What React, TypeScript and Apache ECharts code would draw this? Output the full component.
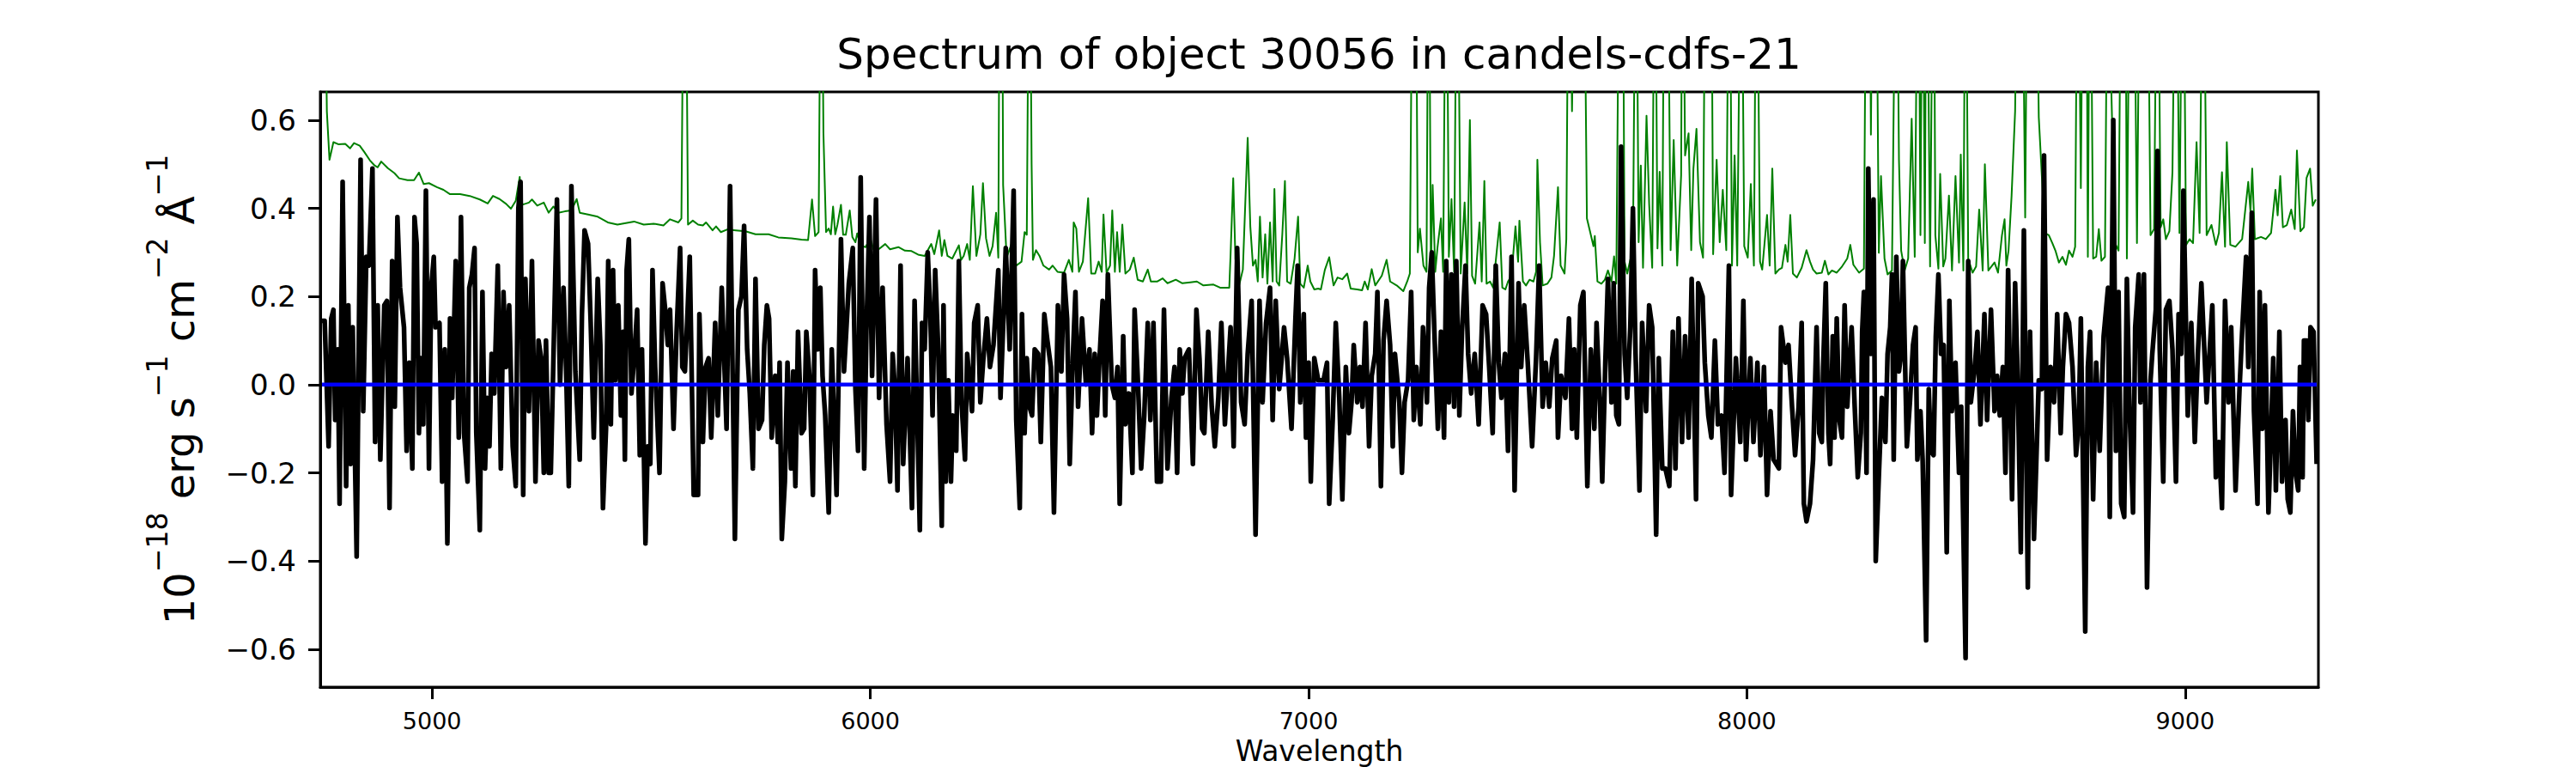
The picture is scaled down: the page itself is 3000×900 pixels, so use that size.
import React, { useEffect, useRef } from "react";
import * as echarts from "echarts";

const TITLE = "Spectrum of object 30056 in candels-cdfs-21";
const X_NAME = "Wavelength";
const Y_NAME = "{n|10}{s|−18}{n| erg s}{s|−1}{n| cm}{s|−2}{n| Å}{s|−1}";
const X_TICKS = [5000, 6000, 7000, 8000, 9000];
const Y_TICKS = [-0.6, -0.4, -0.2, 0.0, 0.2, 0.4, 0.6];
const X_RANGE = [4745, 9304];
const Y_RANGE = [-0.686, 0.664];

// Observed flux [wavelength, flux]
const FLUX_A = [
  [4749,0.145],[4755,0.145],[4764,-0.14],[4770,0.15],[4775,0.17],[4779,-0.08],[4785,0.08],[4789,-0.27],[4796,0.46],[4804,-0.23],[4809,0.18],[4814,-0.18],[4819,0.13],[4828,-0.39],[4837,0.51],[4843,-0.06],[4850,0.29],[4856,0.27],[4864,0.49],[4870,-0.13],[4876,0.18],[4882,-0.17],[4891,0.18],[4897,0.19],[4903,-0.28],[4909,0.28],[4915,-0.05],[4921,0.38],[4927,0.22],[4936,0.13],[4942,-0.15],[4948,0.05],[4955,-0.19],[4960,0.38],[4965,0.32],[4970,-0.11],[4976,0.06],[4980,-0.09],[4986,0.44],[4993,-0.19],[4998,0.22],[5004,0.29],[5008,0.13],[5017,0.14],[5023,-0.22],[5029,0.08],[5035,-0.36],[5041,0.15],[5046,-0.03],[5054,0.28],[5061,-0.12],[5066,0.38],[5073,-0.11],[5081,-0.22],[5085,0.22],[5091,0.25],[5097,0.31],[5101,-0.11],[5109,-0.33],[5115,0.21],[5121,-0.19],[5126,-0.03],[5131,-0.14],[5136,0.07],[5142,-0.02],[5150,0.27],[5157,-0.19],[5163,0.21],[5169,0.04],[5176,0.18],[5184,-0.14],[5191,-0.23],[5197,0.40],[5202,0.46],[5208,-0.25],[5213,0.24],[5221,-0.06],[5228,0.28],[5236,-0.22],[5243,0.10],[5249,0.06],[5255,-0.20],[5260,0.10],[5266,-0.20],[5271,-0.20],[5277,0.06],[5285,0.42],[5292,0.0],[5300,0.22],[5306,0.03],[5312,-0.23],[5318,0.45],[5327,0.03],[5337,-0.17],[5342,0.16],[5348,0.35],[5356,0.32],[5362,0.14],[5369,-0.12],[5378,0.24],[5384,0.09],[5390,-0.28],[5397,-0.10],[5402,0.28],[5408,-0.09],[5413,0.26],[5418,0.01],[5425,0.18],[5431,-0.07],[5436,0.12],[5440,-0.17],[5444,0.26],[5449,0.33],[5455,-0.02],[5461,0.06],[5468,0.17],[5474,-0.16],[5479,0.08],[5487,-0.36],[5492,-0.14],[5498,-0.18],[5503,0.26],[5509,0.04],[5519,-0.20],[5526,0.23],[5532,0.17],[5538,0.09],[5543,0.17],[5551,-0.10],[5558,0.12],[5566,0.31],[5571,0.04],[5577,0.03],[5582,0.14],[5588,0.29],[5597,-0.25],[5607,-0.25],[5610,0.16],[5618,-0.13],[5624,0.04],[5631,0.06],[5637,-0.12],[5646,0.14],[5652,-0.07],[5661,0.22],[5672,-0.10],[5680,0.45],[5691,-0.35],[5699,0.17],[5706,0.20],[5712,0.36],[5719,0.08],[5725,-0.02],[5732,-0.19],[5738,0.24],[5745,-0.10],[5753,-0.08],[5758,0.09],[5764,0.18],[5769,0.15],[5775,-0.12],[5783,0.02],[5789,-0.13],[5793,0.05],[5798,-0.35],[5805,-0.22],[5811,0.05],[5819,-0.19],[5824,0.03],[5829,-0.23],[5835,0.12],[5843,-0.11],[5849,-0.10],[5854,0.12],[5861,0.02],[5869,-0.25],[5874,0.26],[5880,0.08],[5886,0.22],[5891,0.02],
];
const FLUX_B = [
  [5897,-0.07],[5905,-0.29],[5912,0.08],[5923,-0.25],[5933,0.33],[5940,0.03],[5945,0.12],[5951,0.23],[5960,0.31],[5966,-0.01],[5972,-0.15],[5978,0.47],[5986,-0.19],[5991,0.12],[5998,0.38],[6004,0.02],[6013,0.42],[6020,-0.03],[6028,0.22],[6037,-0.09],[6045,-0.22],[6051,0.07],[6056,-0.01],[6062,-0.24],[6069,0.27],[6075,-0.18],[6085,0.06],[6095,-0.28],[6101,0.19],[6113,-0.33],[6118,0.14],[6124,0.08],[6131,0.30],[6137,0.16],[6142,-0.07],[6148,0.26],[6155,0.08],[6163,-0.32],[6167,0.18],[6172,-0.22],[6178,0.01],[6184,-0.22],[6188,-0.07],[6196,-0.15],[6202,0.28],[6208,-0.04],[6216,-0.17],[6221,0.07],[6227,0.0],[6232,-0.06],[6237,0.14],[6245,0.18],[6251,-0.04],[6258,0.06],[6266,0.15],[6273,0.04],[6281,0.09],[6292,0.26],[6297,-0.03],[6303,0.13],[6309,0.31],[6318,0.08],[6327,0.44],[6333,-0.08],[6341,-0.28],[6346,0.16],[6352,-0.11],[6357,0.06],[6363,-0.05],[6369,-0.07],[6375,0.08],[6383,0.07],[6389,-0.13],[6397,0.16],[6404,0.10],[6412,0.04],[6419,-0.29],[6428,0.18],[6436,0.03],[6442,0.25],[6449,0.15],[6455,-0.18],[6462,0.06],[6468,0.21],[6474,-0.05],[6483,0.15],[6492,0.0],[6500,0.08],[6506,-0.11],[6512,0.07],[6517,-0.07],[6523,0.06],[6530,0.19],[6536,-0.07],[6542,0.25],[6551,0.0],[6558,-0.03],[6564,0.04],[6569,-0.27],[6577,0.11],[6582,-0.09],[6590,-0.02],[6598,-0.20],[6603,0.17],[6610,0.02],[6618,-0.19],[6625,-0.07],[6633,0.14],[6639,-0.08],[6646,0.14],[6654,-0.22],[6663,-0.22],[6670,0.17],[6678,-0.19],[6687,-0.03],[6694,0.04],[6700,-0.20],[6706,0.08],[6712,-0.02],[6717,0.06],[6727,0.08],[6736,-0.18],[6744,0.17],[6751,0.06],[6757,-0.10],[6762,-0.11],[6771,0.12],[6779,-0.05],[6786,-0.14],[6794,-0.03],[6801,0.14],[6809,-0.09],[6822,0.13],[6829,-0.14],[6837,0.31],[6846,-0.04],[6854,-0.09],[6861,0.07],[6870,0.19],[6879,-0.34],[6888,0.19],[6895,-0.04],[6903,0.14],[6912,0.22],[6918,-0.08],[6925,0.19],[6933,-0.01],[6944,0.13],[6951,0.06],[6961,-0.10],[6970,0.15],[6975,0.27],[6981,-0.04],[6989,0.16],[6994,-0.12],[7000,0.05],[7005,-0.22],[7013,0.06],[7022,0.01],
];
const FLUX_C = [
  [7034,0.01],[7042,0.05],[7047,-0.27],[7055,-0.08],[7062,0.14],[7070,-0.03],[7077,-0.26],[7085,0.04],[7092,-0.11],[7098,-0.04],[7103,0.09],[7111,-0.04],[7117,0.04],[7123,-0.05],[7130,0.14],[7138,-0.14],[7144,0.02],[7152,0.07],[7157,0.21],[7165,-0.23],[7171,0.10],[7178,0.19],[7186,0.09],[7192,-0.14],[7197,0.07],[7207,-0.04],[7213,-0.20],[7219,-0.04],[7227,0.01],[7234,0.21],[7240,-0.08],[7246,0.04],[7255,-0.09],[7261,0.13],[7270,-0.04],[7275,0.22],[7281,0.30],[7287,0.12],[7295,-0.10],[7302,0.12],[7309,-0.12],[7314,0.28],[7320,-0.04],[7326,0.25],[7332,-0.05],[7337,0.28],[7344,-0.07],[7350,0.12],[7358,0.27],[7364,0.07],[7371,-0.02],[7379,0.07],[7388,-0.09],[7397,0.18],[7405,0.16],[7412,0.04],[7420,-0.11],[7427,0.27],[7434,0.05],[7440,-0.03],[7448,0.07],[7455,-0.15],[7463,0.29],[7470,-0.24],[7479,0.23],[7485,0.04],[7492,0.18],[7500,0.05],[7510,-0.14],[7519,0.06],[7526,0.27],[7534,-0.05],[7541,0.05],[7549,-0.05],[7556,0.06],[7565,0.10],[7569,-0.12],[7576,0.02],[7586,-0.03],[7594,0.15],[7601,-0.10],[7606,0.08],[7612,-0.12],[7620,0.18],[7627,0.21],[7636,-0.23],[7644,0.08],[7652,-0.10],[7657,0.14],[7665,-0.05],[7670,-0.22],[7677,0.05],[7683,0.24],[7691,-0.04],[7696,0.23],[7702,-0.07],[7708,-0.09],[7713,0.54],[7721,0.07],[7727,-0.03],[7734,0.13],[7740,0.40],[7746,0.07],[7755,-0.24],[7761,0.14],[7770,-0.06],[7777,0.18],[7784,0.13],[7793,-0.34],[7799,0.06],[7807,-0.19],[7814,-0.19],[7823,-0.23],[7831,0.12],[7837,-0.19],[7844,0.15],[7852,-0.13],[7859,0.11],[7867,-0.12],[7874,0.24],[7884,-0.26],[7889,0.23],[7899,0.20],[7904,0.05],[7912,-0.07],[7919,-0.12],[7927,0.10],[7934,-0.09],[7942,-0.07],[7949,-0.20],[7959,0.27],[7964,-0.25],[7975,0.06],[7985,-0.13],[7992,0.19],[7998,-0.17],[8008,0.06],[8015,-0.13],[8024,0.05],[8031,-0.16],[8039,0.04],[8046,-0.25],[8054,-0.06],[8061,-0.17],[8073,-0.19],[8078,0.13],[8088,0.05],[8095,0.09],[8103,-0.05],[8110,-0.16],[8118,-0.05],[8125,0.14],[8130,-0.27],[8136,-0.31],[8144,-0.27],[8151,-0.17],[8159,0.13],[8165,-0.11],
];
const FLUX_D = [
  [8171,-0.13],[8174,0.04],[8180,0.23],[8186,-0.11],[8190,-0.18],[8196,0.11],[8200,-0.12],[8205,0.15],[8211,-0.08],[8217,-0.12],[8223,0.18],[8229,-0.05],[8239,0.13],[8246,-0.05],[8253,-0.21],[8260,-0.11],[8263,0.12],[8267,0.21],[8273,-0.20],[8277,0.49],[8283,0.07],[8289,0.42],[8294,-0.40],[8301,-0.21],[8308,-0.03],[8316,-0.13],[8321,0.07],[8327,0.13],[8331,0.25],[8335,-0.17],[8341,0.29],[8347,0.03],[8352,0.07],[8356,0.28],[8365,-0.14],[8372,-0.04],[8379,0.09],[8385,0.13],[8389,-0.17],[8396,-0.06],[8401,-0.17],[8409,-0.58],[8415,-0.01],[8420,-0.15],[8426,-0.16],[8431,0.11],[8437,0.25],[8443,0.07],[8449,0.09],[8456,-0.38],[8462,0.19],[8468,-0.06],[8476,0.05],[8484,-0.20],[8489,-0.05],[8499,-0.62],[8505,0.28],[8511,-0.04],[8520,0.04],[8526,0.12],[8533,-0.09],[8542,0.16],[8548,-0.08],[8557,0.17],[8565,-0.06],[8571,0.02],[8577,-0.07],[8584,0.04],[8590,-0.20],[8596,0.26],[8605,-0.26],[8612,0.23],[8618,0.01],[8625,-0.38],[8632,0.35],[8641,-0.46],[8646,0.12],[8655,-0.35],[8666,0.01],[8673,-0.01],[8678,0.52],[8685,-0.17],[8693,0.04],[8701,-0.04],[8708,0.16],[8716,-0.11],[8721,0.04],[8728,0.16],[8735,0.14],[8743,0.04],[8751,-0.16],[8757,-0.09],[8762,0.15],[8772,-0.56],[8778,0.04],[8783,0.12],[8790,-0.26],[8797,0.05],[8805,-0.15],[8814,0.11],[8824,0.22],[8828,-0.30],[8836,0.60],[8842,-0.15],[8848,0.21],[8854,-0.27],[8861,-0.30],[8867,0.24],[8873,-0.05],[8881,-0.29],[8886,0.13],[8894,0.25],[8898,-0.04],[8906,0.25],[8913,-0.46],[8921,0.01],[8925,0.07],[8933,0.17],[8937,0.53],[8942,0.08],[8950,-0.22],[8956,0.17],[8964,0.19],[8971,0.08],[8979,-0.22],[8985,0.16],[8991,0.07],[8996,0.44],[9006,-0.07],[9014,0.14],[9022,-0.13],[9029,0.07],[9037,0.23],[9049,-0.04],[9062,0.18],[9070,-0.21],[9077,-0.13],[9084,-0.28],[9091,0.19],[9099,-0.04],[9105,0.13],[9115,-0.24],[9124,-0.01],[9130,0.12],[9139,0.29],[9144,0.04],[9152,0.39],[9157,-0.06],[9165,-0.27],[9170,0.21],[9176,-0.10],[9182,0.18],[9190,-0.29],[9196,-0.11],[9201,0.06],[9207,-0.24],[9215,0.12],[9221,-0.22],[9229,-0.08],[9234,-0.26],[9240,-0.29],[9246,-0.06],[9252,-0.20],[9258,-0.24],[9262,0.04],[9268,-0.21],[9271,0.10],[9277,0.10],[9281,-0.08],[9286,0.13],[9293,0.12],[9300,-0.18],
];

// Noise / sky spectrum [wavelength, flux]
const NOISE_A = [
  [4749,1.2],[4753,1.2],[4760,0.62],[4766,0.51],[4775,0.55],[4787,0.545],[4802,0.546],[4813,0.536],[4822,0.548],[4835,0.542],[4846,0.527],[4858,0.509],[4869,0.497],[4876,0.493],[4884,0.506],[4899,0.491],[4914,0.48],[4925,0.468],[4944,0.464],[4959,0.464],[4970,0.481],[4981,0.455],[4993,0.457],[5011,0.448],[5026,0.442],[5041,0.432],[5064,0.432],[5086,0.428],[5109,0.42],[5127,0.411],[5139,0.428],[5154,0.421],[5169,0.41],[5180,0.399],[5191,0.417],[5200,0.471],[5206,0.408],[5221,0.413],[5228,0.42],[5240,0.406],[5255,0.413],[5266,0.39],[5277,0.404],[5288,0.39],[5303,0.393],[5318,0.395],[5330,0.421],[5337,0.39],[5356,0.386],[5378,0.381],[5401,0.368],[5423,0.363],[5461,0.37],[5483,0.363],[5506,0.365],[5528,0.361],[5543,0.375],[5562,0.368],[5569,0.377],[5573,0.9],[5577,1.5],[5580,0.9],[5584,0.363],[5595,0.372],[5607,0.363],[5618,0.361],[5625,0.368],[5640,0.35],[5648,0.359],[5659,0.346],[5674,0.352],[5693,0.35],[5715,0.348],[5738,0.341],[5768,0.341],[5790,0.334],[5820,0.332],[5843,0.329],[5858,0.328],[5867,0.42],[5874,0.337],[5882,0.346],[5888,1.2],[5893,0.57],[5899,0.346],
];
const NOISE_B = [
  [5905,0.354],[5910,0.341],[5915,0.404],[5920,0.341],[5925,0.363],[5933,0.408],[5938,0.34],[5944,0.34],[5953,0.395],[5959,0.335],[5966,0.323],[5970,0.343],[5978,0.316],[5989,0.312],[6000,0.332],[6007,0.307],[6019,0.307],[6034,0.319],[6045,0.307],[6064,0.312],[6079,0.304],[6094,0.303],[6109,0.295],[6124,0.292],[6139,0.319],[6146,0.296],[6157,0.35],[6163,0.292],[6169,0.328],[6176,0.292],[6187,0.286],[6202,0.316],[6207,0.283],[6213,0.292],[6221,0.319],[6227,0.283],[6234,0.45],[6242,0.292],[6251,0.341],[6257,0.457],[6264,0.332],[6272,0.292],[6279,0.314],[6287,0.39],[6292,0.288],[6297,1.5],[6300,1.2],[6303,0.453],[6311,0.288],[6322,0.319],[6333,0.27],[6345,0.279],[6352,0.346],[6357,0.34],[6363,1.2],[6368,0.5],[6371,0.283],[6378,0.305],[6386,0.292],[6395,0.27],[6408,0.261],[6416,0.27],[6427,0.256],[6442,0.254],[6453,0.283],[6461,0.256],[6464,0.368],[6470,0.354],[6476,0.256],[6485,0.279],[6497,0.423],[6504,0.252],[6513,0.252],[6521,0.279],[6528,0.256],[6532,0.386],[6539,0.254],[6547,0.27],[6552,0.395],[6558,0.256],[6563,0.346],[6569,0.256],[6575,0.363],[6582,0.252],[6592,0.261],[6601,0.288],[6610,0.238],[6622,0.234],[6633,0.261],[6640,0.234],[6655,0.234],[6667,0.241],[6678,0.23],[6697,0.238],[6712,0.23],[6730,0.232],[6745,0.234],[6760,0.225],[6783,0.227],[6798,0.22],[6819,0.22],[6822,0.296],[6828,0.468],[6833,0.286],[6841,0.223],[6850,0.261],[6861,0.56],[6867,0.359],[6873,0.27],[6879,0.283],[6884,0.234],[6889,0.381],[6895,0.243],[6901,0.341],[6906,0.229],[6912,0.368],[6918,0.234],[6922,0.444],[6927,0.234],[6933,0.225],[6940,0.341],[6946,0.462],[6951,0.234],[6959,0.229],[6968,0.286],[6976,0.381],[6981,0.229],[6989,0.22],[6998,0.27],[7004,0.234],[7013,0.216],[7022,0.218],
];
const NOISE_C = [
  [7028,0.216],[7037,0.26],[7047,0.289],[7057,0.225],[7066,0.243],[7077,0.239],[7088,0.252],[7096,0.218],[7111,0.216],[7122,0.214],[7128,0.234],[7135,0.216],[7144,0.262],[7152,0.225],[7167,0.247],[7178,0.283],[7186,0.234],[7201,0.225],[7216,0.212],[7225,0.234],[7231,0.252],[7238,1.2],[7244,1.2],[7249,0.30],[7254,0.354],[7262,0.27],[7269,0.256],[7274,1.2],[7279,0.256],[7283,0.453],[7289,0.256],[7294,0.31],[7302,0.377],[7307,0.256],[7314,1.2],[7320,0.29],[7326,0.421],[7332,0.256],[7339,1.2],[7347,0.252],[7356,0.413],[7362,0.252],[7368,0.60],[7373,0.247],[7380,0.229],[7390,0.368],[7395,0.234],[7401,0.462],[7406,0.229],[7414,0.234],[7421,0.22],[7429,0.30],[7436,0.368],[7442,0.22],[7449,0.216],[7455,0.234],[7463,0.247],[7472,0.359],[7478,0.279],[7481,0.372],[7489,0.234],[7496,0.225],[7504,0.238],[7513,0.234],[7519,0.256],[7522,0.51],[7528,0.323],[7534,0.225],[7545,0.229],[7554,0.243],[7560,0.292],[7569,0.448],[7575,0.27],[7584,0.252],[7588,0.33],[7594,1.2],[7601,0.62],[7609,1.2],[7620,1.2],[7627,1.2],[7635,0.377],[7642,0.348],[7650,0.314],[7653,0.337],[7659,0.234],[7668,0.229],[7676,0.238],[7683,0.259],[7691,0.234],[7697,0.291],[7702,0.229],[7710,1.2],[7716,1.2],[7721,0.279],[7727,0.252],[7734,0.283],[7740,0.30],[7747,1.2],[7753,0.323],[7758,0.497],[7763,0.265],[7771,0.61],[7777,0.41],[7784,0.265],[7790,1.2],[7796,0.309],[7801,0.483],[7807,0.27],[7812,1.2],[7818,1.2],[7826,0.305],[7833,0.555],[7841,0.27],[7850,0.475],[7853,1.2],[7859,0.52],[7867,0.57],[7873,0.305],[7878,0.49],[7885,0.58],[7893,0.323],[7900,0.288],[7906,1.2],[7912,1.2],[7918,1.2],[7923,0.296],[7931,0.51],[7938,0.323],[7945,0.442],[7953,0.305],[7960,1.2],[7966,0.27],[7972,0.52],[7978,0.27],[7987,1.2],[7994,0.314],[8002,0.288],[8009,0.455],[8016,0.27],[8022,1.2],[8030,0.279],[8035,0.261],[8046,0.385],[8052,0.27],[8058,0.49],[8065,0.252],[8073,0.261],[8080,0.265],[8088,0.317],[8093,0.279],[8099,0.385],[8105,0.252],[8114,0.243],[8125,0.265],[8136,0.305],[8144,0.279],[8151,0.261],[8159,0.252],
];
const NOISE_D = [
  [8171,0.254],[8178,0.281],[8186,0.25],[8194,0.259],[8205,0.254],[8217,0.268],[8229,0.286],[8236,0.317],[8243,0.272],[8256,0.254],[8267,0.263],[8273,1.2],[8279,1.2],[8283,0.567],[8288,1.2],[8294,1.2],[8301,0.299],[8306,0.473],[8314,0.286],[8321,0.25],[8331,0.259],[8341,1.2],[8347,0.51],[8352,0.304],[8360,0.259],[8368,0.286],[8376,0.603],[8383,0.29],[8391,1.2],[8396,0.339],[8401,1.2],[8406,0.321],[8410,1.2],[8418,0.268],[8426,1.2],[8430,0.339],[8437,0.263],[8441,0.478],[8448,0.268],[8453,0.286],[8461,0.429],[8468,0.259],[8476,0.473],[8484,0.277],[8488,0.522],[8494,0.259],[8499,1.2],[8505,0.286],[8515,0.254],[8523,0.268],[8530,0.397],[8538,0.259],[8543,0.5],[8551,0.259],[8565,0.277],[8573,0.254],[8582,0.339],[8588,0.375],[8592,0.27],[8597,0.304],[8604,0.429],[8612,0.62],[8619,1.2],[8627,1.2],[8635,0.379],[8641,1.2],[8650,1.2],[8658,1.2],[8666,0.607],[8673,0.473],[8680,0.344],[8689,0.339],[8697,0.321],[8704,0.304],[8712,0.277],[8720,0.29],[8728,0.272],[8735,0.304],[8743,0.29],[8749,0.313],[8755,1.2],[8762,0.446],[8768,1.2],[8774,1.2],[8778,0.29],[8783,1.2],[8790,0.286],[8797,0.29],[8803,0.353],[8809,0.281],[8817,0.29],[8824,1.2],[8832,0.65],[8840,0.321],[8848,0.304],[8855,1.2],[8863,1.2],[8867,0.286],[8875,1.2],[8882,1.2],[8890,0.321],[8898,1.2],[8906,1.2],[8913,1.2],[8921,0.339],[8929,0.353],[8937,1.2],[8944,0.357],[8950,0.375],[8956,0.33],[8964,0.348],[8971,0.482],[8979,1.2],[8987,0.344],[8995,1.2],[9002,0.317],[9010,0.33],[9018,0.321],[9026,0.55],[9033,0.344],[9041,1.2],[9049,0.339],[9060,0.362],[9070,0.317],[9077,0.344],[9084,0.482],[9091,0.313],[9095,0.55],[9103,0.317],[9115,0.313],[9130,0.33],[9144,0.46],[9149,0.393],[9153,0.49],[9159,0.33],[9173,0.335],[9184,0.33],[9196,0.344],[9206,0.442],[9211,0.384],[9217,0.473],[9223,0.357],[9232,0.362],[9242,0.397],[9250,0.353],[9255,0.531],[9263,0.348],[9271,0.357],[9277,0.469],[9285,0.49],[9291,0.406],[9298,0.42],
];

// Model spectrum (flat zero)
const MODEL = [[4749, 0], [9300, 0]];

const FONT = "DejaVu Sans";

export default function App() {
  const ref = useRef<HTMLDivElement>(null);
  useEffect(() => {
    document.body.style.margin = "0";
    const chart = echarts.init(ref.current as HTMLDivElement, null, { renderer: "svg" });
    const flux = [...FLUX_A, ...FLUX_B, ...FLUX_C, ...FLUX_D];
    const noise = [...NOISE_A, ...NOISE_B, ...NOISE_C, ...NOISE_D];
    chart.setOption({
      animation: false,
      backgroundColor: "#ffffff",
      title: {
        text: TITLE,
        left: 1536,
        top: 38,
        padding: 0,
        textAlign: "center",
        textStyle: { fontFamily: FONT, fontSize: 50, fontWeight: "normal", color: "#000" },
      },
      grid: {
        left: 373, right: 300, top: 107, bottom: 100,
        show: true, borderColor: "#000", borderWidth: 3, backgroundColor: "transparent",
      },
      xAxis: {
        type: "value",
        min: X_RANGE[0], max: X_RANGE[1],
        splitLine: { show: false },
        axisLine: { show: true, onZero: false, lineStyle: { color: "#000", width: 3 } },
        axisTick: { show: true, length: 14, lineStyle: { color: "#000", width: 3 }, customValues: X_TICKS },
        axisLabel: {
          customValues: X_TICKS, color: "#000", fontFamily: FONT, fontSize: 27, margin: 26,
          formatter: (v: number) => String(Math.round(v)),
        },
        name: X_NAME,
        nameLocation: "middle",
        nameGap: 56,
        nameTextStyle: { fontFamily: FONT, fontSize: 33, color: "#000" },
      },
      yAxis: {
        type: "value",
        min: Y_RANGE[0], max: Y_RANGE[1],
        splitLine: { show: false },
        axisLine: { show: true, onZero: false, lineStyle: { color: "#000", width: 3 } },
        axisTick: { show: true, length: 14, lineStyle: { color: "#000", width: 3 }, customValues: Y_TICKS },
        axisLabel: {
          customValues: Y_TICKS, color: "#000", fontFamily: FONT, fontSize: 34, margin: 28,
          formatter: (v: number) => v.toFixed(1).replace("-", "−"),
        },
        name: Y_NAME,
        nameLocation: "middle",
        nameRotate: 90,
        nameGap: 140,
        nameTextStyle: {
          fontFamily: FONT, color: "#000",
          rich: {
            n: { fontFamily: FONT, fontSize: 48, color: "#000", lineHeight: 66, verticalAlign: "bottom" },
            s: { fontFamily: FONT, fontSize: 33, color: "#000", lineHeight: 33, verticalAlign: "top" },
          },
        },
      },
      series: [
        {
          type: "line", data: noise, showSymbol: false, symbol: "none", clip: true, silent: true, z: 2,
          lineStyle: { color: "#008000", width: 2, join: "round" },
        },
        {
          type: "line", data: flux, showSymbol: false, symbol: "none", clip: true, silent: true, z: 3,
          lineStyle: { color: "#000000", width: 5.5, join: "round" },
        },
        {
          type: "line", data: MODEL, showSymbol: false, symbol: "none", clip: true, silent: true, z: 4,
          lineStyle: { color: "#0000ff", width: 4.5 },
        },
      ],
    });
    return () => chart.dispose();
  }, []);
  return <div ref={ref} style={{ width: 3000, height: 900, background: "#fff" }} />;
}
